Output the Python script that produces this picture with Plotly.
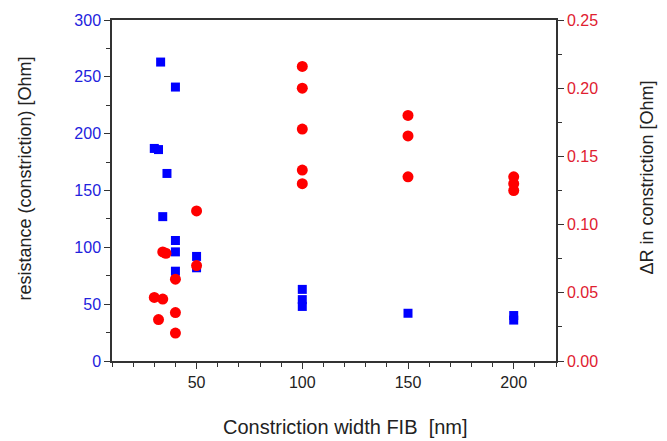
import plotly.graph_objects as go

# Constriction resistance (left axis, Ohm) vs FIB constriction width (nm)
width_res = [30, 32, 33, 34, 36, 40, 40, 40, 40, 50, 50, 100, 100, 100, 150, 200, 200]
resistance = [187, 186, 263, 127, 165, 241, 106, 96, 79, 92, 82, 63, 54, 48, 42, 40, 36]

# Change of resistance in the constriction (right axis, Ohm)
width_dr = [30, 32, 34, 34, 35.5, 40, 40, 40, 50, 50,
            100, 100, 100, 100, 100, 150, 150, 150, 200, 200, 200]
delta_r = [0.0466, 0.0304, 0.0454, 0.080, 0.079, 0.060, 0.0355, 0.0205, 0.110, 0.070,
           0.216, 0.200, 0.170, 0.140, 0.130, 0.180, 0.165, 0.135, 0.135, 0.130, 0.125]

FONT = "Arial, Liberation Sans, sans-serif"
BLUE = "#0000FF"
RED = "#FF0000"
TITLE_COLOR = "#222222"

fig = go.Figure()
fig.add_trace(go.Scatter(
    x=width_res, y=resistance, mode="markers",
    marker=dict(symbol="square", size=9, color=BLUE),
    yaxis="y", showlegend=False,
))
fig.add_trace(go.Scatter(
    x=width_dr, y=delta_r, mode="markers",
    marker=dict(symbol="circle", size=11, color=RED),
    yaxis="y2", showlegend=False,
))

axis_common = dict(
    showgrid=False, zeroline=False, showline=True, linecolor="#333333", linewidth=1.5,
    ticks="outside", ticklen=6, tickwidth=1.2, tickcolor="#333333",
)

fig.update_layout(
    width=667, height=441,
    margin=dict(l=112, r=111, t=17, b=80),
    paper_bgcolor="white", plot_bgcolor="white",
    font=dict(family=FONT, size=16, color=TITLE_COLOR),
    xaxis=dict(
        **axis_common, range=[10, 220], tick0=0, dtick=50, mirror=True,
        minor=dict(dtick=10, ticklen=4, tickcolor="#333333", ticks="outside"),
        tickfont=dict(size=16, color=TITLE_COLOR),
    ),
    yaxis=dict(
        **axis_common, range=[0, 300], tick0=0, dtick=50,
        minor=dict(dtick=25, ticklen=4, tickcolor="#333333", ticks="outside"),
        tickfont=dict(size=16, color="#2222DD"),
    ),
    yaxis2=dict(
        **axis_common, range=[0, 0.25], tick0=0, dtick=0.05, tickformat=".2f",
        overlaying="y", side="right",
        minor=dict(dtick=0.025, ticklen=4, tickcolor="#333333", ticks="outside"),
        tickfont=dict(size=16, color="#E02030"),
    ),
)

# Axis titles placed as paper-referenced annotations
titles = [
    dict(text="Constriction width FIB  [nm]", x=0.526, y=-0.195, angle=0, size=20),
    dict(text="resistance (constriction) [Ohm]", x=-0.196, y=0.535, angle=-90, size=18),
    dict(text="ΔR in constriction [Ohm]", x=1.205, y=0.538, angle=-90, size=18),
]
for t in titles:
    fig.add_annotation(
        text=t["text"], xref="paper", yref="paper", x=t["x"], y=t["y"],
        xanchor="center", yanchor="middle", textangle=t["angle"], showarrow=False,
        font=dict(family=FONT, size=t["size"], color=TITLE_COLOR),
    )

fig.write_html("out.html")
